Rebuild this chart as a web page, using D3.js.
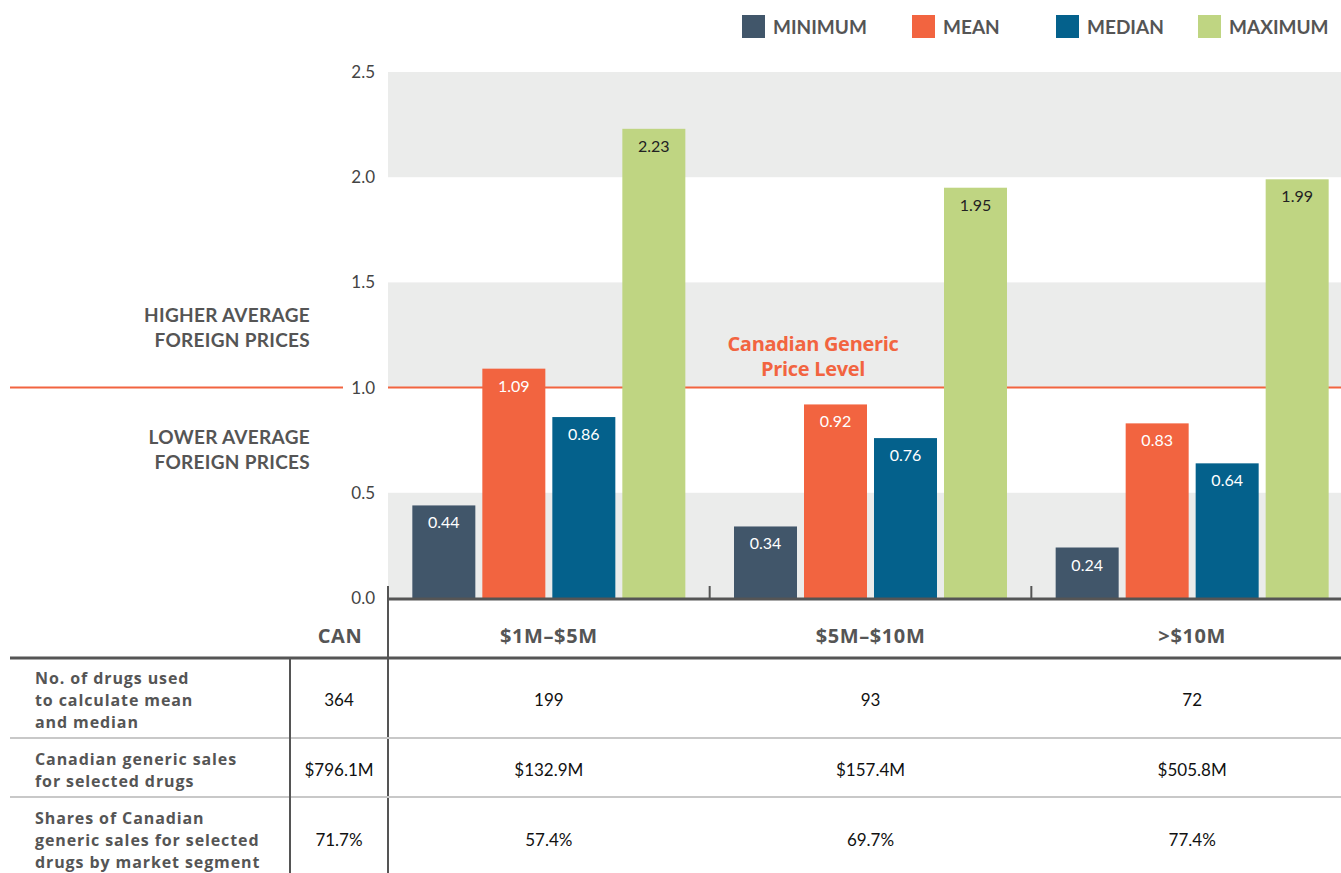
<!DOCTYPE html>
<html>
<head>
<meta charset="utf-8">
<script src="https://cdn.jsdelivr.net/npm/d3@7"></script>
<style>
  body { margin: 0; background: #fff; }
  text { font-family: Lato, "Open Sans", sans-serif; }
</style>
</head>
<body>
<div id="chart"></div>
<script>
// data
var categories = ["$1M\u2013$5M", "$5M\u2013$10M", ">$10M"];
var seriesNames = ["MINIMUM", "MEAN", "MEDIAN", "MAXIMUM"];
var minimum = [0.44, 0.34, 0.24];
var mean = [1.09, 0.92, 0.83];
var median = [0.86, 0.76, 0.64];
var maximum = [2.23, 1.95, 1.99];
var yTicks = [0, 0.5, 1, 1.5, 2, 2.5];
var shadedBands = [[0, 0.5], [1, 1.5], [2, 2.5]];

var rowLabels = [
  ["No. of drugs used", "to calculate mean", "and median"],
  ["Canadian generic sales", "for selected drugs"],
  ["Shares of Canadian", "generic sales for selected", "drugs by market segment"]
];
var canValues = ["364", "$796.1M", "71.7%"];
var segmentValues = [
  ["199", "93", "72"],
  ["$132.9M", "$157.4M", "$505.8M"],
  ["57.4%", "69.7%", "77.4%"]
];

var colors = ["#41566a", "#f26440", "#04618c", "#bfd582"];
var labelColors = ["#fff", "#fff", "#fff", "#222"];

var W = 1341, H = 873;
var plotLeft = 388, plotRight = 1341;

var svg = d3.select("#chart").append("svg")
  .attr("width", W).attr("height", H);

var y = d3.scaleLinear().domain([0, 2.5]).range([598, 72]);
var x0 = d3.scaleBand().domain(categories).range([plotLeft, 1353]).padding(0);
var x1 = d3.scaleBand().domain(seriesNames).range([-140, 140]).paddingInner(0.1).paddingOuter(0.05);

// shaded bands
svg.append("g").selectAll("rect").data(shadedBands).enter().append("rect")
  .attr("x", plotLeft)
  .attr("width", plotRight - plotLeft)
  .attr("y", function(d) { return y(d[1]); })
  .attr("height", function(d) { return y(d[0]) - y(d[1]); })
  .attr("fill", "#ebeceb");

// Canadian price level line (gap behind the 1.0 tick label)
var refLine = svg.append("g");
refLine.append("line").attr("x1", 10).attr("x2", 343)
  .attr("y1", y(1)).attr("y2", y(1));
refLine.append("line").attr("x1", plotLeft).attr("x2", plotRight)
  .attr("y1", y(1)).attr("y2", y(1));
refLine.selectAll("line").attr("stroke", "#f26440").attr("stroke-width", 2);

svg.append("text").attr("x", 813).attr("y", 351)
  .attr("text-anchor", "middle").attr("fill", "#f26440")
  .attr("font-size", 20).attr("font-weight", 700)
  .style("font-family", "'Open Sans', sans-serif")
  .style("letter-spacing", "-0.3px")
  .selectAll("tspan").data(["Canadian Generic", "Price Level"]).enter().append("tspan")
  .attr("x", 813).attr("dy", function(d, i) { return i ? 25 : 0; })
  .text(function(d) { return d; });

// y axis
var yAxis = svg.append("g")
  .attr("transform", "translate(" + plotLeft + ",0)")
  .call(d3.axisLeft(y).tickValues(yTicks).tickFormat(d3.format(".1f")).tickSize(0).tickPadding(13));
yAxis.select(".domain").remove();
yAxis.selectAll("text").attr("font-size", 17).attr("fill", "#444")
  .style("font-family", "Lato, sans-serif");

// side notes
var notes = [
  { lines: ["HIGHER AVERAGE", "FOREIGN PRICES"], y: 322 },
  { lines: ["LOWER AVERAGE", "FOREIGN PRICES"], y: 444 }
];
notes.forEach(function(n) {
  svg.append("text").attr("text-anchor", "end").attr("fill", "#555")
    .attr("font-size", 19).attr("font-weight", 700)
    .style("letter-spacing", "0.3px")
    .attr("y", n.y)
    .selectAll("tspan").data(n.lines).enter().append("tspan")
    .attr("x", 310).attr("dy", function(d, i) { return i ? 25 : 0; })
    .text(function(d) { return d; });
});

// bars
var seriesData = [minimum, mean, median, maximum];
var groups = svg.append("g").selectAll("g").data(categories).enter().append("g")
  .attr("transform", function(d) { return "translate(" + (x0(d) + x0.bandwidth() / 2) + ",0)"; });

groups.selectAll("rect")
  .data(function(c, ci) { return seriesNames.map(function(s, si) { return { s: s, si: si, v: seriesData[si][ci] }; }); })
  .enter().append("rect")
  .attr("x", function(d) { return x1(d.s); })
  .attr("width", x1.bandwidth())
  .attr("y", function(d) { return y(d.v); })
  .attr("height", function(d) { return y(0) - y(d.v); })
  .attr("fill", function(d) { return colors[d.si]; });

groups.selectAll("text.val")
  .data(function(c, ci) { return seriesNames.map(function(s, si) { return { s: s, si: si, v: seriesData[si][ci] }; }); })
  .enter().append("text")
  .attr("class", "val")
  .attr("x", function(d) { return x1(d.s) + x1.bandwidth() / 2; })
  .attr("y", function(d) { return y(d.v) + 23; })
  .attr("text-anchor", "middle")
  .attr("font-size", 16)
  .attr("fill", function(d) { return labelColors[d.si]; })
  .text(function(d) { return d3.format(".2f")(d.v); });

// baseline and category ticks
var base = y(0);
svg.append("line").attr("x1", plotLeft).attr("x2", plotRight)
  .attr("y1", base + 1).attr("y2", base + 1)
  .attr("stroke", "#555").attr("stroke-width", 3);
svg.append("g").selectAll("line").data(categories.slice(1)).enter().append("line")
  .attr("x1", function(d) { return x0(d); }).attr("x2", function(d) { return x0(d); })
  .attr("y1", base - 12).attr("y2", base)
  .attr("stroke", "#555").attr("stroke-width", 2);
svg.append("line").attr("x1", plotLeft).attr("x2", plotLeft)
  .attr("y1", base - 12).attr("y2", H)
  .attr("stroke", "#555").attr("stroke-width", 2);

// legend
var legendX = [742, 912, 1056, 1198];
var legend = svg.append("g").selectAll("g").data(seriesNames).enter().append("g")
  .attr("transform", function(d, i) { return "translate(" + legendX[i] + ",15)"; });
legend.append("rect").attr("width", 23).attr("height", 23)
  .attr("fill", function(d, i) { return colors[i]; });
legend.append("text").attr("x", 31).attr("y", 19)
  .attr("font-size", 19).attr("font-weight", 700).attr("fill", "#555")
  .text(function(d) { return d; });

// table
var tableLeft = 10, labelCol = 290;
var headerY = 658;
var rowLines = [738, 797];
var rowCenters = [700, 770, 840];
var lineGap = 22;

var headerFont = "'Open Sans', sans-serif";
svg.append("text").attr("x", 340).attr("y", 643).attr("text-anchor", "middle")
  .attr("font-size", 20).attr("font-weight", 700).attr("fill", "#555")
  .style("font-family", headerFont).style("letter-spacing", "0.6px").text("CAN");
svg.append("g").selectAll("text").data(categories).enter().append("text")
  .attr("x", function(d) { return x0(d) + x0.bandwidth() / 2; })
  .attr("y", 643).attr("text-anchor", "middle")
  .attr("font-size", 20).attr("font-weight", 700).attr("fill", "#555")
  .style("font-family", headerFont).style("letter-spacing", "0.6px")
  .text(function(d) { return d; });

svg.append("line").attr("x1", tableLeft).attr("x2", W)
  .attr("y1", headerY).attr("y2", headerY)
  .attr("stroke", "#555").attr("stroke-width", 3);
svg.append("g").selectAll("line").data(rowLines).enter().append("line")
  .attr("x1", tableLeft).attr("x2", W)
  .attr("y1", function(d) { return d; }).attr("y2", function(d) { return d; })
  .attr("stroke", "#c8c8c8").attr("stroke-width", 2);
svg.append("line").attr("x1", labelCol).attr("x2", labelCol)
  .attr("y1", headerY).attr("y2", H)
  .attr("stroke", "#555").attr("stroke-width", 2);

rowLabels.forEach(function(lines, ri) {
  var top = rowCenters[ri] - (lines.length - 1) * lineGap / 2 + 6;
  svg.append("text").attr("font-size", 16).attr("font-weight", 700).attr("fill", "#555")
    .style("font-family", headerFont).style("letter-spacing", "0.9px")
    .attr("y", top)
    .selectAll("tspan").data(lines).enter().append("tspan")
    .attr("x", 35).attr("dy", function(d, i) { return i ? lineGap : 0; })
    .text(function(d) { return d; });

  svg.append("text").attr("x", 339).attr("y", rowCenters[ri] + 6)
    .attr("text-anchor", "middle").attr("font-size", 17).attr("fill", "#111")
    .text(canValues[ri]);

  svg.append("g").selectAll("text").data(categories).enter().append("text")
    .attr("x", function(d) { return x0(d) + x0.bandwidth() / 2; })
    .attr("y", rowCenters[ri] + 6)
    .attr("text-anchor", "middle").attr("font-size", 17).attr("fill", "#111")
    .text(function(d, ci) { return segmentValues[ri][ci]; });
});
</script>
</body>
</html>
